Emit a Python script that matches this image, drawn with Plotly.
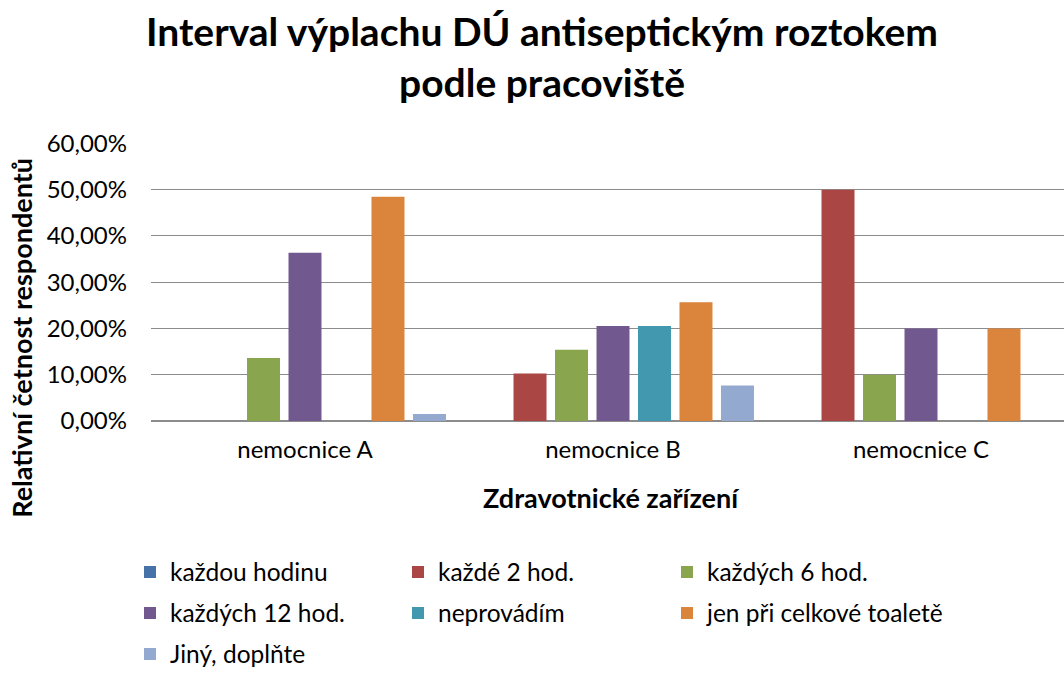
import plotly.graph_objects as go

categories = ["nemocnice A", "nemocnice B", "nemocnice C"]
series_names = ["každou hodinu", "každé 2 hod.", "každých 6 hod.", "každých 12 hod.",
                "neprovádím", "jen při celkové toaletě", "Jiný, doplňte"]
kazdou_hodinu = [0.0, 0.0, 0.0]
kazde_2_hod = [0.0, 0.1026, 0.50]
kazdych_6_hod = [0.1364, 0.1538, 0.10]
kazdych_12_hod = [0.3636, 0.2051, 0.20]
neprovadim = [0.0, 0.2051, 0.0]
jen_pri_toalete = [0.4848, 0.2564, 0.20]
jiny = [0.0152, 0.0769, 0.0]
y_ticks = [0, 0.1, 0.2, 0.3, 0.4, 0.5, 0.6]

series_values = [kazdou_hodinu, kazde_2_hod, kazdych_6_hod, kazdych_12_hod,
                 neprovadim, jen_pri_toalete, jiny]
colors = ["#4572A7", "#AA4643", "#89A54E", "#71588F", "#4198AF", "#DB843C", "#93A9CF"]

W, H = 1064, 681
PL, PR, PT, PB = 151, 1064, 142.7, 420.7
FONT = "Lato, 'Open Sans', sans-serif"

# legend grid: 3 columns, rows as in the reference
LEG_COL_X = [130, 398, 667]
LEG_ROW_Y = [572, 613, 654]

fig = go.Figure()
legend_layouts = {}
for i, (name, vals, col) in enumerate(zip(series_names, series_values, colors)):
    lg = "legend" if i == 0 else f"legend{i + 1}"
    fig.add_trace(go.Bar(
        x=categories, y=vals, name=name, legend=lg,
        marker=dict(color=col, line=dict(width=0)),
    ))
    legend_layouts[lg] = dict(
        orientation="h", xref="container", yref="container",
        xanchor="left", yanchor="middle",
        x=LEG_COL_X[i % 3] / W, y=1 - LEG_ROW_Y[i // 3] / H,
        font=dict(family=FONT, size=24.5, color="#000000"),
        bgcolor="rgba(0,0,0,0)", itemclick=False, itemdoubleclick=False)

# x range: plot area continues past the right edge of the picture
cat_w = (1075 - PL) / 3.0
x_max = -0.5 + (PR - PL) / cat_w

def px_to_paper_x(px):
    return (px - PL) / (PR - PL)

def px_to_paper_y(py):
    return (PB - py) / (PB - PT)

fig.update_layout(
    width=W, height=H,
    margin=dict(l=PL, r=W - PR, t=PT, b=H - PB, pad=0, autoexpand=False),
    paper_bgcolor="white", plot_bgcolor="white",
    separators=", ",
    barmode="group", bargap=0.057, bargroupgap=0.205,
    xaxis=dict(range=[-0.5, x_max], showgrid=False, showline=False, zeroline=False,
               ticks="", tickfont=dict(family=FONT, size=24, color="#000000"),
               ticklabelstandoff=12, automargin=False, fixedrange=True),
    yaxis=dict(range=[0, 0.6008], tickvals=y_ticks, tickformat=".2%",
               showgrid=True, gridcolor="#8c8c8c", gridwidth=1,
               zeroline=True, zerolinecolor="#8c8c8c", zerolinewidth=1.5,
               showline=False, ticks="",
               tickfont=dict(family=FONT, size=24, color="#000000"),
               ticklabelstandoff=23, automargin=False, fixedrange=True),
    showlegend=True,
    **legend_layouts,
)

fig.add_annotation(text="<b>Interval výplachu DÚ antiseptickým roztokem<br>podle pracoviště</b>",
                   xref="paper", yref="paper",
                   x=px_to_paper_x(542), y=px_to_paper_y(56), xanchor="center", yanchor="middle",
                   showarrow=False, font=dict(family=FONT, size=39, color="#000000"))
fig.add_annotation(text="<b>Zdravotnické zařízení</b>", xref="paper", yref="paper",
                   x=px_to_paper_x(611.5), y=px_to_paper_y(497), xanchor="center", yanchor="middle",
                   showarrow=False, font=dict(family=FONT, size=27, color="#000000"))
fig.add_annotation(text="<b>Relativní četnost respondentů</b>", xref="paper", yref="paper",
                   x=px_to_paper_x(22), y=px_to_paper_y(337.5), xanchor="center", yanchor="middle",
                   textangle=-90, showarrow=False, font=dict(family=FONT, size=27, color="#000000"))

fig.write_html("out.html", config={"displayModeBar": False},
               post_script="document.body.style.margin='0px';document.body.style.overflow='hidden';")
